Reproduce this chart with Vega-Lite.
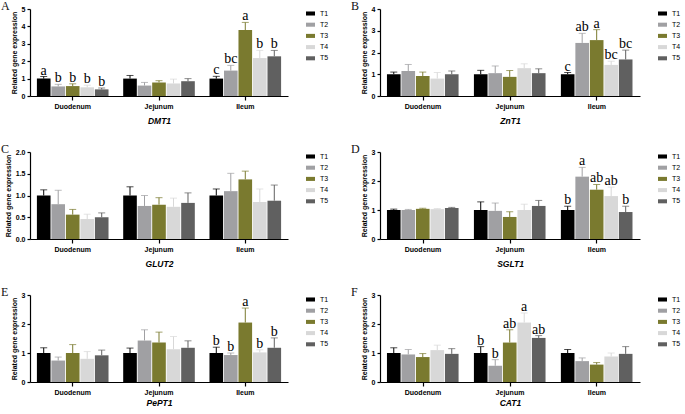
{
 "$schema": "https://vega.github.io/schema/vega-lite/v6.json",
 "padding": {"left": 1, "top": 0, "right": 0, "bottom": 0},
 "background": "white",
 "config": {
  "view": {"stroke": null},
  "font": "Liberation Sans",
  "axis": {"domainColor": "black", "tickColor": "black", "labelColor": "black", "titleColor": "black", "grid": false, "labelFont": "Liberation Sans", "labelFontWeight": "bold", "labelFontSize": 7, "titleFont": "Liberation Sans", "titleFontWeight": "bold", "domainWidth": 1.2, "tickWidth": 1.2, "tickSize": 3, "labelPadding": 2, "labelOverlap": false},
  "axisX": {"labelAngle": 0, "bandPosition": 0.5, "titleFontStyle": "italic", "titleFontSize": 8.5, "titlePadding": 7, "tickSize": 4},
  "axisY": {"titleFontSize": 7, "titlePadding": 4},
  "title": {"font": "Liberation Serif", "fontSize": 12, "fontWeight": "normal", "anchor": "start", "frame": "group", "dx": -29, "offset": -8, "color": "#111"},
  "legend": {"orient": "right", "offset": 18, "padding": 0, "labelFont": "Liberation Sans", "labelFontSize": 7, "labelColor": "black", "symbolType": "M-1,-0.45H1V0.45H-1Z", "symbolSize": 81, "rowPadding": 3.2, "symbolStrokeWidth": 0, "labelOffset": 5}
 },
 "datasets": {
  "d": [
   {"g":"DMT1","t":"Duodenum","trt":"T1","m":1.0,"u":1.12,"l":"a"},
   {"g":"DMT1","t":"Duodenum","trt":"T2","m":0.55,"u":0.67,"l":"b"},
   {"g":"DMT1","t":"Duodenum","trt":"T3","m":0.57,"u":0.70,"l":"b"},
   {"g":"DMT1","t":"Duodenum","trt":"T4","m":0.50,"u":0.62,"l":"b"},
   {"g":"DMT1","t":"Duodenum","trt":"T5","m":0.38,"u":0.46,"l":"b"},
   {"g":"DMT1","t":"Jejunum","trt":"T1","m":1.0,"u":1.18,"l":""},
   {"g":"DMT1","t":"Jejunum","trt":"T2","m":0.60,"u":0.78,"l":""},
   {"g":"DMT1","t":"Jejunum","trt":"T3","m":0.78,"u":0.88,"l":""},
   {"g":"DMT1","t":"Jejunum","trt":"T4","m":0.72,"u":0.97,"l":""},
   {"g":"DMT1","t":"Jejunum","trt":"T5","m":0.85,"u":1.00,"l":""},
   {"g":"DMT1","t":"Ileum","trt":"T1","m":1.0,"u":1.13,"l":"c"},
   {"g":"DMT1","t":"Ileum","trt":"T2","m":1.46,"u":1.76,"l":"bc"},
   {"g":"DMT1","t":"Ileum","trt":"T3","m":3.79,"u":4.23,"l":"a"},
   {"g":"DMT1","t":"Ileum","trt":"T4","m":2.18,"u":2.62,"l":"b"},
   {"g":"DMT1","t":"Ileum","trt":"T5","m":2.28,"u":2.62,"l":"b"},

   {"g":"ZnT1","t":"Duodenum","trt":"T1","m":1.0,"u":1.10,"l":""},
   {"g":"ZnT1","t":"Duodenum","trt":"T2","m":1.15,"u":1.45,"l":""},
   {"g":"ZnT1","t":"Duodenum","trt":"T3","m":0.92,"u":1.10,"l":""},
   {"g":"ZnT1","t":"Duodenum","trt":"T4","m":0.80,"u":1.08,"l":""},
   {"g":"ZnT1","t":"Duodenum","trt":"T5","m":1.0,"u":1.15,"l":""},
   {"g":"ZnT1","t":"Jejunum","trt":"T1","m":1.0,"u":1.18,"l":""},
   {"g":"ZnT1","t":"Jejunum","trt":"T2","m":1.05,"u":1.38,"l":""},
   {"g":"ZnT1","t":"Jejunum","trt":"T3","m":0.88,"u":1.17,"l":""},
   {"g":"ZnT1","t":"Jejunum","trt":"T4","m":1.28,"u":1.48,"l":""},
   {"g":"ZnT1","t":"Jejunum","trt":"T5","m":1.05,"u":1.25,"l":""},
   {"g":"ZnT1","t":"Ileum","trt":"T1","m":1.0,"u":1.08,"l":"c"},
   {"g":"ZnT1","t":"Ileum","trt":"T2","m":2.44,"u":2.88,"l":"ab"},
   {"g":"ZnT1","t":"Ileum","trt":"T3","m":2.57,"u":3.05,"l":"a"},
   {"g":"ZnT1","t":"Ileum","trt":"T4","m":1.43,"u":1.60,"l":"bc"},
   {"g":"ZnT1","t":"Ileum","trt":"T5","m":1.68,"u":2.11,"l":"bc"},

   {"g":"GLUT2","t":"Duodenum","trt":"T1","m":1.0,"u":1.13,"l":""},
   {"g":"GLUT2","t":"Duodenum","trt":"T2","m":0.80,"u":1.12,"l":""},
   {"g":"GLUT2","t":"Duodenum","trt":"T3","m":0.56,"u":0.68,"l":""},
   {"g":"GLUT2","t":"Duodenum","trt":"T4","m":0.46,"u":0.57,"l":""},
   {"g":"GLUT2","t":"Duodenum","trt":"T5","m":0.50,"u":0.60,"l":""},
   {"g":"GLUT2","t":"Jejunum","trt":"T1","m":1.0,"u":1.20,"l":""},
   {"g":"GLUT2","t":"Jejunum","trt":"T2","m":0.76,"u":1.00,"l":""},
   {"g":"GLUT2","t":"Jejunum","trt":"T3","m":0.79,"u":0.95,"l":""},
   {"g":"GLUT2","t":"Jejunum","trt":"T4","m":0.74,"u":0.94,"l":""},
   {"g":"GLUT2","t":"Jejunum","trt":"T5","m":0.83,"u":1.06,"l":""},
   {"g":"GLUT2","t":"Ileum","trt":"T1","m":1.0,"u":1.15,"l":""},
   {"g":"GLUT2","t":"Ileum","trt":"T2","m":1.10,"u":1.51,"l":""},
   {"g":"GLUT2","t":"Ileum","trt":"T3","m":1.37,"u":1.56,"l":""},
   {"g":"GLUT2","t":"Ileum","trt":"T4","m":0.85,"u":1.15,"l":""},
   {"g":"GLUT2","t":"Ileum","trt":"T5","m":0.88,"u":1.24,"l":""},

   {"g":"SGLT1","t":"Duodenum","trt":"T1","m":1.0,"u":1.03,"l":""},
   {"g":"SGLT1","t":"Duodenum","trt":"T2","m":1.0,"u":1.02,"l":""},
   {"g":"SGLT1","t":"Duodenum","trt":"T3","m":1.04,"u":1.06,"l":""},
   {"g":"SGLT1","t":"Duodenum","trt":"T4","m":1.03,"u":1.05,"l":""},
   {"g":"SGLT1","t":"Duodenum","trt":"T5","m":1.07,"u":1.09,"l":""},
   {"g":"SGLT1","t":"Jejunum","trt":"T1","m":1.0,"u":1.28,"l":""},
   {"g":"SGLT1","t":"Jejunum","trt":"T2","m":0.97,"u":1.24,"l":""},
   {"g":"SGLT1","t":"Jejunum","trt":"T3","m":0.76,"u":0.94,"l":""},
   {"g":"SGLT1","t":"Jejunum","trt":"T4","m":1.0,"u":1.20,"l":""},
   {"g":"SGLT1","t":"Jejunum","trt":"T5","m":1.14,"u":1.33,"l":""},
   {"g":"SGLT1","t":"Ileum","trt":"T1","m":1.0,"u":1.13,"l":"b"},
   {"g":"SGLT1","t":"Ileum","trt":"T2","m":2.15,"u":2.47,"l":"a"},
   {"g":"SGLT1","t":"Ileum","trt":"T3","m":1.70,"u":1.88,"l":"ab"},
   {"g":"SGLT1","t":"Ileum","trt":"T4","m":1.48,"u":1.79,"l":"ab"},
   {"g":"SGLT1","t":"Ileum","trt":"T5","m":0.93,"u":1.13,"l":"b"},

   {"g":"PePT1","t":"Duodenum","trt":"T1","m":1.0,"u":1.18,"l":""},
   {"g":"PePT1","t":"Duodenum","trt":"T2","m":0.74,"u":0.86,"l":""},
   {"g":"PePT1","t":"Duodenum","trt":"T3","m":1.0,"u":1.29,"l":""},
   {"g":"PePT1","t":"Duodenum","trt":"T4","m":0.80,"u":1.05,"l":""},
   {"g":"PePT1","t":"Duodenum","trt":"T5","m":0.92,"u":1.10,"l":""},
   {"g":"PePT1","t":"Jejunum","trt":"T1","m":1.0,"u":1.17,"l":""},
   {"g":"PePT1","t":"Jejunum","trt":"T2","m":1.43,"u":1.80,"l":""},
   {"g":"PePT1","t":"Jejunum","trt":"T3","m":1.36,"u":1.72,"l":""},
   {"g":"PePT1","t":"Jejunum","trt":"T4","m":1.13,"u":1.57,"l":""},
   {"g":"PePT1","t":"Jejunum","trt":"T5","m":1.18,"u":1.42,"l":""},
   {"g":"PePT1","t":"Ileum","trt":"T1","m":1.0,"u":1.20,"l":"b"},
   {"g":"PePT1","t":"Ileum","trt":"T2","m":0.93,"u":1.00,"l":"b"},
   {"g":"PePT1","t":"Ileum","trt":"T3","m":2.05,"u":2.55,"l":"a"},
   {"g":"PePT1","t":"Ileum","trt":"T4","m":1.02,"u":1.11,"l":"b"},
   {"g":"PePT1","t":"Ileum","trt":"T5","m":1.18,"u":1.52,"l":"b"},

   {"g":"CAT1","t":"Duodenum","trt":"T1","m":1.0,"u":1.18,"l":""},
   {"g":"CAT1","t":"Duodenum","trt":"T2","m":0.95,"u":1.12,"l":""},
   {"g":"CAT1","t":"Duodenum","trt":"T3","m":0.86,"u":0.98,"l":""},
   {"g":"CAT1","t":"Duodenum","trt":"T4","m":1.10,"u":1.27,"l":""},
   {"g":"CAT1","t":"Duodenum","trt":"T5","m":0.97,"u":1.15,"l":""},
   {"g":"CAT1","t":"Jejunum","trt":"T1","m":1.0,"u":1.22,"l":"b"},
   {"g":"CAT1","t":"Jejunum","trt":"T2","m":0.56,"u":0.77,"l":"b"},
   {"g":"CAT1","t":"Jejunum","trt":"T3","m":1.36,"u":1.80,"l":"ab"},
   {"g":"CAT1","t":"Jejunum","trt":"T4","m":2.05,"u":2.38,"l":"a"},
   {"g":"CAT1","t":"Jejunum","trt":"T5","m":1.52,"u":1.60,"l":"ab"},
   {"g":"CAT1","t":"Ileum","trt":"T1","m":1.0,"u":1.12,"l":""},
   {"g":"CAT1","t":"Ileum","trt":"T2","m":0.72,"u":0.83,"l":""},
   {"g":"CAT1","t":"Ileum","trt":"T3","m":0.60,"u":0.67,"l":""},
   {"g":"CAT1","t":"Ileum","trt":"T4","m":0.88,"u":1.00,"l":""},
   {"g":"CAT1","t":"Ileum","trt":"T5","m":0.97,"u":1.22,"l":""}
  ]
 },
 "data": {"name": "d"},
 "resolve": {"scale": {"color": "independent"}, "legend": {"color": "independent"}},
 "spacing": 18,
 "vconcat": [
  {
   "hconcat": [
    {
     "title": "A", "width": 258, "height": 87,
     "transform": [{"filter": "datum.g === 'DMT1'"}],
     "encoding": {
      "x": {"field": "t", "type": "nominal", "sort": ["Duodenum","Jejunum","Ileum"], "scale": {"paddingInner": 0.17, "paddingOuter": 0.08}, "title": "DMT1"},
      "xOffset": {"field": "trt", "type": "nominal", "scale": {"paddingInner": 0.06}}
     },
     "layer": [
      {"mark": {"type": "bar"}, "encoding": {"y": {"field": "m", "type": "quantitative", "scale": {"domain": [0,5]}, "axis": {"values": [0,1,2,3,4,5], "format": "d"}, "title": "Related gene expression"}, "color": {"field": "trt", "type": "nominal", "scale": {"domain": ["T1","T2","T3","T4","T5"], "range": ["#000000","#a0a0a3","#7a7a2f","#d8d8d8","#606060"]}, "legend": {"title": null}}}},
      {"mark": {"type": "rule", "strokeWidth": 1}, "encoding": {"y": {"field": "m", "type": "quantitative", "axis": {"values": [0,1,2,3,4,5], "format": "d"}, "title": "Related gene expression"}, "y2": {"field": "u"}, "color": {"field": "trt", "type": "nominal", "legend": null}}},
      {"mark": {"type": "tick", "orient": "horizontal", "size": 7, "thickness": 1}, "encoding": {"y": {"field": "u", "type": "quantitative", "axis": {"values": [0,1,2,3,4,5], "format": "d"}, "title": "Related gene expression"}, "color": {"field": "trt", "type": "nominal", "legend": null}}},
      {"mark": {"type": "text", "baseline": "alphabetic", "dy": -2, "font": "Liberation Serif", "fontSize": 14, "fill": "black"}, "encoding": {"y": {"field": "u", "type": "quantitative", "axis": {"values": [0,1,2,3,4,5], "format": "d"}, "title": "Related gene expression"}, "text": {"field": "l"}}}
     ]
    },
    {
     "title": "B", "width": 260, "height": 87,
     "transform": [{"filter": "datum.g === 'ZnT1'"}],
     "encoding": {
      "x": {"field": "t", "type": "nominal", "sort": ["Duodenum","Jejunum","Ileum"], "scale": {"paddingInner": 0.17, "paddingOuter": 0.08}, "title": "ZnT1"},
      "xOffset": {"field": "trt", "type": "nominal", "scale": {"paddingInner": 0.06}}
     },
     "layer": [
      {"mark": {"type": "bar"}, "encoding": {"y": {"field": "m", "type": "quantitative", "scale": {"domain": [0,4]}, "axis": {"values": [0,1,2,3,4], "format": "d"}, "title": "Related gene expression"}, "color": {"field": "trt", "type": "nominal", "scale": {"domain": ["T1","T2","T3","T4","T5"], "range": ["#000000","#a0a0a3","#7a7a2f","#d8d8d8","#606060"]}, "legend": {"title": null}}}},
      {"mark": {"type": "rule", "strokeWidth": 1}, "encoding": {"y": {"field": "m", "type": "quantitative", "axis": {"values": [0,1,2,3,4], "format": "d"}, "title": "Related gene expression"}, "y2": {"field": "u"}, "color": {"field": "trt", "type": "nominal", "legend": null}}},
      {"mark": {"type": "tick", "orient": "horizontal", "size": 7, "thickness": 1}, "encoding": {"y": {"field": "u", "type": "quantitative", "axis": {"values": [0,1,2,3,4], "format": "d"}, "title": "Related gene expression"}, "color": {"field": "trt", "type": "nominal", "legend": null}}},
      {"mark": {"type": "text", "baseline": "alphabetic", "dy": -2, "font": "Liberation Serif", "fontSize": 14, "fill": "black"}, "encoding": {"y": {"field": "u", "type": "quantitative", "axis": {"values": [0,1,2,3,4], "format": "d"}, "title": "Related gene expression"}, "text": {"field": "l"}}}
     ]
    }
   ],
   "spacing": 22,
   "resolve": {"scale": {"color": "independent"}, "legend": {"color": "independent"}}
  },
  {
   "hconcat": [
    {
     "title": "C", "width": 258, "height": 87,
     "transform": [{"filter": "datum.g === 'GLUT2'"}],
     "encoding": {
      "x": {"field": "t", "type": "nominal", "sort": ["Duodenum","Jejunum","Ileum"], "scale": {"paddingInner": 0.17, "paddingOuter": 0.08}, "title": "GLUT2"},
      "xOffset": {"field": "trt", "type": "nominal", "scale": {"paddingInner": 0.06}}
     },
     "layer": [
      {"mark": {"type": "bar"}, "encoding": {"y": {"field": "m", "type": "quantitative", "scale": {"domain": [0,2]}, "axis": {"values": [0,0.5,1,1.5,2], "format": ".1f"}, "title": "Related gene expression"}, "color": {"field": "trt", "type": "nominal", "scale": {"domain": ["T1","T2","T3","T4","T5"], "range": ["#000000","#a0a0a3","#7a7a2f","#d8d8d8","#606060"]}, "legend": {"title": null}}}},
      {"mark": {"type": "rule", "strokeWidth": 1}, "encoding": {"y": {"field": "m", "type": "quantitative", "axis": {"values": [0,0.5,1,1.5,2], "format": ".1f"}, "title": "Related gene expression"}, "y2": {"field": "u"}, "color": {"field": "trt", "type": "nominal", "legend": null}}},
      {"mark": {"type": "tick", "orient": "horizontal", "size": 7, "thickness": 1}, "encoding": {"y": {"field": "u", "type": "quantitative", "axis": {"values": [0,0.5,1,1.5,2], "format": ".1f"}, "title": "Related gene expression"}, "color": {"field": "trt", "type": "nominal", "legend": null}}}
     ]
    },
    {
     "title": "D", "width": 260, "height": 87,
     "transform": [{"filter": "datum.g === 'SGLT1'"}],
     "encoding": {
      "x": {"field": "t", "type": "nominal", "sort": ["Duodenum","Jejunum","Ileum"], "scale": {"paddingInner": 0.17, "paddingOuter": 0.08}, "title": "SGLT1"},
      "xOffset": {"field": "trt", "type": "nominal", "scale": {"paddingInner": 0.06}}
     },
     "layer": [
      {"mark": {"type": "bar"}, "encoding": {"y": {"field": "m", "type": "quantitative", "scale": {"domain": [0,3]}, "axis": {"values": [0,1,2,3], "format": "d"}, "title": "Related gene expression"}, "color": {"field": "trt", "type": "nominal", "scale": {"domain": ["T1","T2","T3","T4","T5"], "range": ["#000000","#a0a0a3","#7a7a2f","#d8d8d8","#606060"]}, "legend": {"title": null}}}},
      {"mark": {"type": "rule", "strokeWidth": 1}, "encoding": {"y": {"field": "m", "type": "quantitative", "axis": {"values": [0,1,2,3], "format": "d"}, "title": "Related gene expression"}, "y2": {"field": "u"}, "color": {"field": "trt", "type": "nominal", "legend": null}}},
      {"mark": {"type": "tick", "orient": "horizontal", "size": 7, "thickness": 1}, "encoding": {"y": {"field": "u", "type": "quantitative", "axis": {"values": [0,1,2,3], "format": "d"}, "title": "Related gene expression"}, "color": {"field": "trt", "type": "nominal", "legend": null}}},
      {"mark": {"type": "text", "baseline": "alphabetic", "dy": -2, "font": "Liberation Serif", "fontSize": 14, "fill": "black"}, "encoding": {"y": {"field": "u", "type": "quantitative", "axis": {"values": [0,1,2,3], "format": "d"}, "title": "Related gene expression"}, "text": {"field": "l"}}}
     ]
    }
   ],
   "spacing": 22,
   "resolve": {"scale": {"color": "independent"}, "legend": {"color": "independent"}}
  },
  {
   "hconcat": [
    {
     "title": "E", "width": 258, "height": 87,
     "transform": [{"filter": "datum.g === 'PePT1'"}],
     "encoding": {
      "x": {"field": "t", "type": "nominal", "sort": ["Duodenum","Jejunum","Ileum"], "scale": {"paddingInner": 0.17, "paddingOuter": 0.08}, "title": "PePT1", "axis": {"titlePadding": 3}},
      "xOffset": {"field": "trt", "type": "nominal", "scale": {"paddingInner": 0.06}}
     },
     "layer": [
      {"mark": {"type": "bar"}, "encoding": {"y": {"field": "m", "type": "quantitative", "scale": {"domain": [0,3]}, "axis": {"values": [0,1,2,3], "format": "d"}, "title": "Related gene expression"}, "color": {"field": "trt", "type": "nominal", "scale": {"domain": ["T1","T2","T3","T4","T5"], "range": ["#000000","#a0a0a3","#7a7a2f","#d8d8d8","#606060"]}, "legend": {"title": null}}}},
      {"mark": {"type": "rule", "strokeWidth": 1}, "encoding": {"y": {"field": "m", "type": "quantitative", "axis": {"values": [0,1,2,3], "format": "d"}, "title": "Related gene expression"}, "y2": {"field": "u"}, "color": {"field": "trt", "type": "nominal", "legend": null}}},
      {"mark": {"type": "tick", "orient": "horizontal", "size": 7, "thickness": 1}, "encoding": {"y": {"field": "u", "type": "quantitative", "axis": {"values": [0,1,2,3], "format": "d"}, "title": "Related gene expression"}, "color": {"field": "trt", "type": "nominal", "legend": null}}},
      {"mark": {"type": "text", "baseline": "alphabetic", "dy": -2, "font": "Liberation Serif", "fontSize": 14, "fill": "black"}, "encoding": {"y": {"field": "u", "type": "quantitative", "axis": {"values": [0,1,2,3], "format": "d"}, "title": "Related gene expression"}, "text": {"field": "l"}}}
     ]
    },
    {
     "title": "F", "width": 260, "height": 87,
     "transform": [{"filter": "datum.g === 'CAT1'"}],
     "encoding": {
      "x": {"field": "t", "type": "nominal", "sort": ["Duodenum","Jejunum","Ileum"], "scale": {"paddingInner": 0.17, "paddingOuter": 0.08}, "title": "CAT1", "axis": {"titlePadding": 3}},
      "xOffset": {"field": "trt", "type": "nominal", "scale": {"paddingInner": 0.06}}
     },
     "layer": [
      {"mark": {"type": "bar"}, "encoding": {"y": {"field": "m", "type": "quantitative", "scale": {"domain": [0,3]}, "axis": {"values": [0,1,2,3], "format": "d"}, "title": "Related gene expression"}, "color": {"field": "trt", "type": "nominal", "scale": {"domain": ["T1","T2","T3","T4","T5"], "range": ["#000000","#a0a0a3","#7a7a2f","#d8d8d8","#606060"]}, "legend": {"title": null}}}},
      {"mark": {"type": "rule", "strokeWidth": 1}, "encoding": {"y": {"field": "m", "type": "quantitative", "axis": {"values": [0,1,2,3], "format": "d"}, "title": "Related gene expression"}, "y2": {"field": "u"}, "color": {"field": "trt", "type": "nominal", "legend": null}}},
      {"mark": {"type": "tick", "orient": "horizontal", "size": 7, "thickness": 1}, "encoding": {"y": {"field": "u", "type": "quantitative", "axis": {"values": [0,1,2,3], "format": "d"}, "title": "Related gene expression"}, "color": {"field": "trt", "type": "nominal", "legend": null}}},
      {"mark": {"type": "text", "baseline": "alphabetic", "dy": -2, "font": "Liberation Serif", "fontSize": 14, "fill": "black"}, "encoding": {"y": {"field": "u", "type": "quantitative", "axis": {"values": [0,1,2,3], "format": "d"}, "title": "Related gene expression"}, "text": {"field": "l"}}}
     ]
    }
   ],
   "spacing": 22,
   "resolve": {"scale": {"color": "independent"}, "legend": {"color": "independent"}}
  }
 ]
}
